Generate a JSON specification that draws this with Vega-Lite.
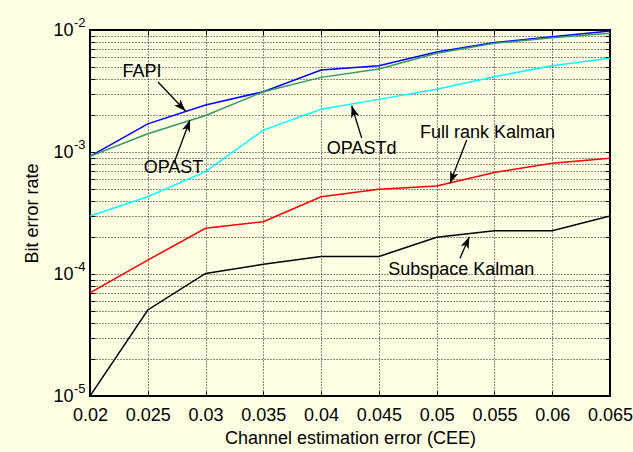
{
  "$schema": "https://vega.github.io/schema/vega-lite/v6.json",
  "width": 520,
  "height": 366,
  "autosize": {"type": "none"},
  "padding": {"left": 90, "top": 30, "right": 23, "bottom": 56},
  "background": "#FFFFE3",
  "config": {
    "view": {"stroke": "black", "strokeWidth": 2, "fill": "#FFFFE3"},
    "font": "Liberation Sans",
    "axis": {
      "labelFont": "Liberation Sans",
      "labelFontSize": 18,
      "labelColor": "black",
      "titleFont": "Liberation Sans",
      "titleFontSize": 18,
      "titleFontWeight": "normal",
      "titleColor": "black",
      "domain": false,
      "tickColor": "black",
      "tickWidth": 1,
      "tickSize": -5,
      "gridColor": "black",
      "gridOpacity": 0.9,
      "gridDash": [1, 2],
      "gridWidth": 1
    },
    "text": {"font": "Liberation Sans", "fontSize": 18}
  },
  "datasets": {
    "lines": [
      {"s": "FAPI", "x": 0.02, "y": 0.00092},
      {"s": "FAPI", "x": 0.025, "y": 0.0017},
      {"s": "FAPI", "x": 0.03, "y": 0.00243},
      {"s": "FAPI", "x": 0.035, "y": 0.00312},
      {"s": "FAPI", "x": 0.04, "y": 0.0047},
      {"s": "FAPI", "x": 0.045, "y": 0.0051},
      {"s": "FAPI", "x": 0.05, "y": 0.0066},
      {"s": "FAPI", "x": 0.055, "y": 0.0079},
      {"s": "FAPI", "x": 0.06, "y": 0.0088},
      {"s": "FAPI", "x": 0.065, "y": 0.0098},
      {"s": "OPAST", "x": 0.02, "y": 0.00092},
      {"s": "OPAST", "x": 0.025, "y": 0.00141},
      {"s": "OPAST", "x": 0.03, "y": 0.00199},
      {"s": "OPAST", "x": 0.035, "y": 0.00312},
      {"s": "OPAST", "x": 0.04, "y": 0.00409},
      {"s": "OPAST", "x": 0.045, "y": 0.00479},
      {"s": "OPAST", "x": 0.05, "y": 0.00644},
      {"s": "OPAST", "x": 0.055, "y": 0.00778},
      {"s": "OPAST", "x": 0.06, "y": 0.00865},
      {"s": "OPAST", "x": 0.065, "y": 0.0094},
      {"s": "OPASTd", "x": 0.02, "y": 0.000299},
      {"s": "OPASTd", "x": 0.025, "y": 0.00043},
      {"s": "OPASTd", "x": 0.03, "y": 0.00069},
      {"s": "OPASTd", "x": 0.035, "y": 0.00151},
      {"s": "OPASTd", "x": 0.04, "y": 0.00224},
      {"s": "OPASTd", "x": 0.045, "y": 0.0027},
      {"s": "OPASTd", "x": 0.05, "y": 0.00327},
      {"s": "OPASTd", "x": 0.055, "y": 0.00414},
      {"s": "OPASTd", "x": 0.06, "y": 0.0051},
      {"s": "OPASTd", "x": 0.065, "y": 0.00586},
      {"s": "Full rank Kalman", "x": 0.02, "y": 0.00007},
      {"s": "Full rank Kalman", "x": 0.025, "y": 0.00013},
      {"s": "Full rank Kalman", "x": 0.03, "y": 0.000237},
      {"s": "Full rank Kalman", "x": 0.035, "y": 0.000268},
      {"s": "Full rank Kalman", "x": 0.04, "y": 0.00043},
      {"s": "Full rank Kalman", "x": 0.045, "y": 0.000494},
      {"s": "Full rank Kalman", "x": 0.05, "y": 0.000526},
      {"s": "Full rank Kalman", "x": 0.055, "y": 0.00068},
      {"s": "Full rank Kalman", "x": 0.06, "y": 0.000807},
      {"s": "Full rank Kalman", "x": 0.065, "y": 0.000887},
      {"s": "Subspace Kalman", "x": 0.02, "y": 0.00001},
      {"s": "Subspace Kalman", "x": 0.025, "y": 0.0000507},
      {"s": "Subspace Kalman", "x": 0.03, "y": 0.000101},
      {"s": "Subspace Kalman", "x": 0.035, "y": 0.00012},
      {"s": "Subspace Kalman", "x": 0.04, "y": 0.000139},
      {"s": "Subspace Kalman", "x": 0.045, "y": 0.000139},
      {"s": "Subspace Kalman", "x": 0.05, "y": 0.0002},
      {"s": "Subspace Kalman", "x": 0.055, "y": 0.000226},
      {"s": "Subspace Kalman", "x": 0.06, "y": 0.000226},
      {"s": "Subspace Kalman", "x": 0.065, "y": 0.000299}
    ],
    "notes": [
      {"label": "FAPI", "x": 0.0245, "y": 0.004484},
      {"label": "OPAST", "x": 0.027226, "y": 0.0007393},
      {"label": "OPASTd", "x": 0.043512, "y": 0.001058},
      {"label": "Full rank Kalman", "x": 0.054399, "y": 0.001431},
      {"label": "Subspace Kalman", "x": 0.052132, "y": 0.00010784}
    ],
    "exponents": [
      {"e": "-2", "y": 0.01},
      {"e": "-3", "y": 0.001},
      {"e": "-4", "y": 0.0001},
      {"e": "-5", "y": 0.00001}
    ],
    "arrows": [
      {"label": "FAPI", "x": 0.025885, "y": 0.003749, "tx": 0.028264, "ty": 0.002168, "dir": 136},
      {"label": "OPAST", "x": 0.027269, "y": 0.0008126, "tx": 0.028654, "ty": 0.00183, "dir": 20},
      {"label": "OPASTd", "x": 0.043512, "y": 0.001302, "tx": 0.042647, "ty": 0.002396, "dir": -17},
      {"label": "Full rank Kalman", "x": 0.052599, "y": 0.001254, "tx": 0.051154, "ty": 0.000554, "dir": 201},
      {"label": "Subspace Kalman", "x": 0.052019, "y": 0.0001345, "tx": 0.052824, "ty": 0.0002021, "dir": 23}
    ]
  },
  "layer": [
    {
      "data": {"name": "lines"},
      "mark": {"type": "line", "strokeWidth": 1.5, "clip": true},
      "encoding": {
        "x": {
          "field": "x", "type": "quantitative",
          "scale": {"domain": [0.02, 0.065], "nice": false, "zero": false},
          "axis": {
            "orient": "bottom",
            "values": [0.02, 0.025, 0.03, 0.035, 0.04, 0.045, 0.05, 0.055, 0.06, 0.065],
            "format": "~g",
            "labelPadding": 15,
            "labelFlush": false,
            "title": "Channel estimation error (CEE)",
            "titleX": 260,
            "titleY": 42,
            "titleBaseline": "middle",
            "titleAnchor": "middle"
          }
        },
        "y": {
          "field": "y", "type": "quantitative",
          "scale": {"type": "log", "domain": [0.00001, 0.01], "nice": false},
          "axis": {
            "orient": "left",
            "values": [0.00001, 0.00002, 0.00003, 0.00004, 0.00005, 0.00006, 0.00007, 0.00008, 0.00009, 0.0001, 0.0002, 0.0003, 0.0004, 0.0005, 0.0006, 0.0007, 0.0008, 0.0009, 0.001, 0.002, 0.003, 0.004, 0.005, 0.006, 0.007, 0.008, 0.009, 0.01],
            "labelExpr": "abs(datum.value-0.01)<1e-8 || abs(datum.value-0.001)<1e-9 || abs(datum.value-0.0001)<1e-10 || abs(datum.value-0.00001)<1e-11 ? '10' : ''",
            "labelPadding": 22,
            "labelAlign": "right",
            "labelFlush": false,
            "labelOverlap": false,
            "labelBaseline": "middle",
            "title": "Bit error rate",
            "titleX": -58,
            "titleY": 183,
            "titleAngle": -90,
            "titleBaseline": "middle",
            "titleAnchor": "middle"
          }
        },
        "color": {
          "field": "s", "type": "nominal",
          "scale": {
            "domain": ["FAPI", "OPAST", "OPASTd", "Full rank Kalman", "Subspace Kalman"],
            "range": ["#0000FF", "#339966", "#00FFFF", "#FF0000", "#000000"]
          },
          "legend": null
        }
      }
    },
    {
      "data": {"name": "lines"},
      "mark": {"type": "line", "opacity": 0},
      "encoding": {
        "x": {
          "field": "x", "type": "quantitative",
          "scale": {"domain": [0.02, 0.065], "nice": false, "zero": false},
          "axis": {
            "orient": "top",
            "values": [0.02, 0.025, 0.03, 0.035, 0.04, 0.045, 0.05, 0.055, 0.06, 0.065],
            "labels": false, "grid": false, "title": null
          }
        },
        "y": {
          "field": "y", "type": "quantitative",
          "scale": {"type": "log", "domain": [0.00001, 0.01], "nice": false},
          "axis": {
            "orient": "right",
            "values": [0.00001, 0.00002, 0.00003, 0.00004, 0.00005, 0.00006, 0.00007, 0.00008, 0.00009, 0.0001, 0.0002, 0.0003, 0.0004, 0.0005, 0.0006, 0.0007, 0.0008, 0.0009, 0.001, 0.002, 0.003, 0.004, 0.005, 0.006, 0.007, 0.008, 0.009, 0.01],
            "labels": false, "grid": false, "title": null
          }
        },
        "detail": {"field": "s"}
      }
    },
    {
      "data": {"name": "exponents"},
      "mark": {"type": "text", "color": "black", "fontSize": 13, "align": "left", "baseline": "middle", "dx": -16, "dy": -7, "clip": false},
      "encoding": {
        "x": {"datum": 0.02, "type": "quantitative", "scale": {"domain": [0.02, 0.065], "nice": false, "zero": false}, "axis": null},
        "y": {"field": "y", "type": "quantitative", "scale": {"type": "log", "domain": [0.00001, 0.01], "nice": false}, "axis": null},
        "text": {"field": "e", "type": "nominal"}
      }
    },
    {
      "data": {"name": "arrows"},
      "mark": {"type": "rule", "color": "black", "strokeWidth": 1.3},
      "encoding": {
        "x": {"field": "x", "type": "quantitative", "scale": {"domain": [0.02, 0.065], "nice": false, "zero": false}, "axis": null},
        "y": {"field": "y", "type": "quantitative", "scale": {"type": "log", "domain": [0.00001, 0.01], "nice": false}, "axis": null},
        "x2": {"field": "tx"},
        "y2": {"field": "ty"}
      }
    },
    {
      "data": {"name": "arrows"},
      "mark": {"type": "point", "shape": "M0,0 L0.36,1 L0,0.75 L-0.36,1 Z", "filled": true, "color": "black", "opacity": 1, "size": 560, "strokeWidth": 0},
      "encoding": {
        "x": {"field": "tx", "type": "quantitative", "scale": {"domain": [0.02, 0.065], "nice": false, "zero": false}, "axis": null},
        "y": {"field": "ty", "type": "quantitative", "scale": {"type": "log", "domain": [0.00001, 0.01], "nice": false}, "axis": null},
        "angle": {"field": "dir", "type": "quantitative", "scale": null}
      }
    },
    {
      "data": {"name": "notes"},
      "mark": {"type": "text", "color": "black", "fontSize": 18, "align": "center", "baseline": "middle"},
      "encoding": {
        "x": {"field": "x", "type": "quantitative", "scale": {"domain": [0.02, 0.065], "nice": false, "zero": false}, "axis": null},
        "y": {"field": "y", "type": "quantitative", "scale": {"type": "log", "domain": [0.00001, 0.01], "nice": false}, "axis": null},
        "text": {"field": "label"}
      }
    }
  ],
  "resolve": {"scale": {"x": "independent", "y": "independent"}}
}
